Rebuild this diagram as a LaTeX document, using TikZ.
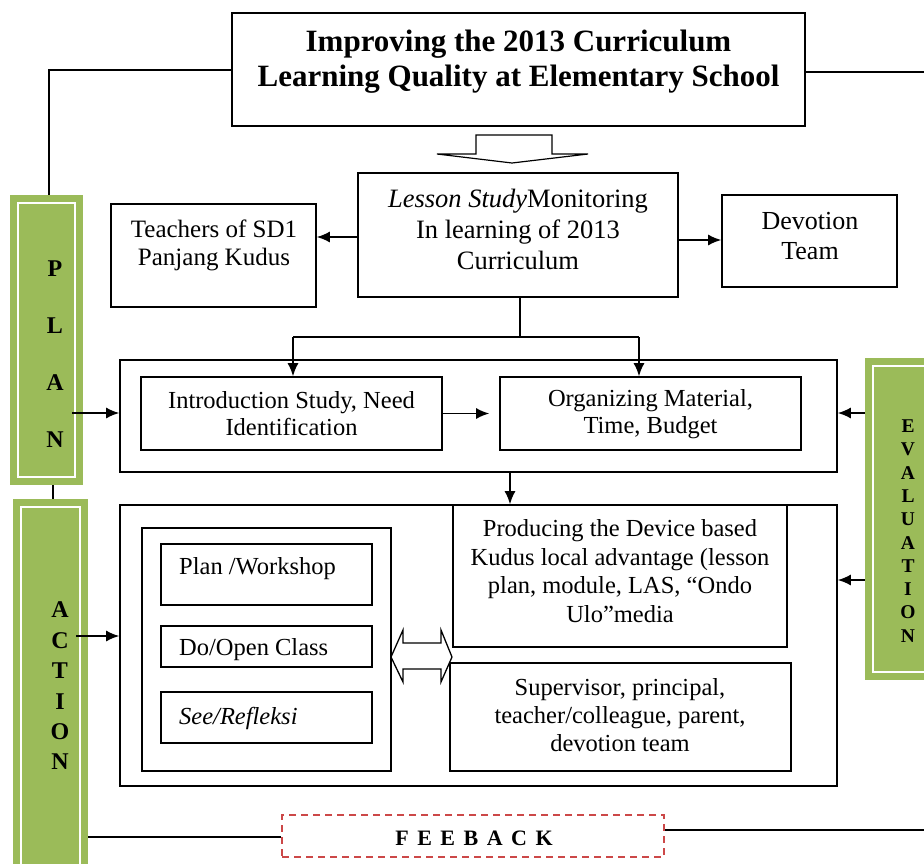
\documentclass[tikz,border=0pt]{standalone}
\usepackage{fontspec}
\setmainfont{Liberation Serif}
\usetikzlibrary{arrows.meta}
\definecolor{grn}{RGB}{155,187,89}
\definecolor{fbred}{RGB}{204,72,72}
\newcommand\lsp{\hspace{8.5pt}}
\begin{document}
\begin{tikzpicture}[x=1pt,y=-1pt,
  box/.style={draw=black, line width=1.6pt, inner sep=0pt, rectangle},
  txt/.style={font=\fontsize{24.5}{28}\selectfont, align=center, inner sep=0pt},
  arr/.style={line width=1.6pt, -{Latex[length=13pt,width=11pt]}},
  ln/.style={line width=1.6pt},
  greenbar/.style={fill=grn, draw=none, inner sep=0pt, rectangle},
  whiteframe/.style={draw=white, line width=2.5pt},
  gletter/.style={font=\bfseries\fontsize{24}{57}\selectfont, align=center, inner sep=0pt},
]
\useasboundingbox (0,0) rectangle (924,863);
\clip (0,0) rectangle (924,863);
\fill[white] (0,0) rectangle (924,863);

% green side bars
\node[greenbar, minimum width=73, minimum height=290] (plan) at (46.5,340) {};
\draw[whiteframe] ([shift={(8,8)}]plan.north west) rectangle ([shift={(-8,-8)}]plan.south east);
\node[gletter] (plantxt) at (55,354) {P\\L\\A\\N};

\node[greenbar, minimum width=75, minimum height=381] (action) at (50.5,689.5) {};
\draw[whiteframe] ([shift={(8,8)}]action.north west) rectangle ([shift={(-8,-8)}]action.south east);
\node[gletter, font=\bfseries\fontsize{24}{30.4}\selectfont] (actiontxt) at (60,686) {A\\C\\T\\I\\O\\N};

\node[greenbar, minimum width=80, minimum height=322] (eval) at (905,519) {};
\draw[whiteframe] ([shift={(8,8)}]eval.north west) rectangle ([shift={(-8,-8)}]eval.south east);
\node[gletter, font=\bfseries\fontsize{19.5}{23.3}\selectfont] (evaltxt) at (908,531) {E\\V\\A\\L\\U\\A\\T\\I\\O\\N};

% title
\node[box, minimum width=573, minimum height=113] (title) at (518.5,69.5) {};
\node[font=\bfseries\fontsize{31}{35}\selectfont, align=center, inner sep=0pt] (titletxt) at (518.5,62) {Improving the 2013 Curriculum\\Learning Quality at Elementary School};

% hollow block arrow
\draw[line width=1.2pt, fill=white] (476,154) -- (476,135) -- (552,135) -- (552,154) -- (588,154) -- (512,163) -- (437,154) -- cycle;

% lesson study row
\node[box, minimum width=320, minimum height=124] (lesson) at (518,235) {};
\node[txt, font=\fontsize{26.5}{31}\selectfont] (lessontxt) at (518,229) {\textit{Lesson Study}Monitoring\\In learning of 2013\\Curriculum};

\node[box, minimum width=205, minimum height=103] (teachers) at (213.5,255.5) {};
\node[txt, font=\fontsize{25}{28}\selectfont] (teacherstxt) at (214,245) {Teachers of SD1\\Panjang Kudus};

\node[box, minimum width=175, minimum height=92] (devotion) at (809.5,241) {};
\node[txt, font=\fontsize{26}{30}\selectfont] (devotiontxt) at (810,236) {Devotion\\Team};

% first big box
\node[box, minimum width=717, minimum height=112] (big1) at (478.5,416) {};
\node[box, minimum width=301, minimum height=73] (intro) at (291.5,413.5) {};
\node[txt, font=\fontsize{24.5}{27}\selectfont] (introtxt) at (291.5,414) {Introduction Study, Need\\Identification};
\node[box, minimum width=301, minimum height=73] (org) at (650.5,413.5) {};
\node[txt, font=\fontsize{24.5}{27}\selectfont] (orgtxt) at (650.5,414) {Organizing Material,\\Time, Budget};

% second big box
\node[box, minimum width=717, minimum height=281] (big2) at (478.5,645.5) {};
\node[box, minimum width=334, minimum height=142] (prod) at (620,576) {};
\node[txt, font=\fontsize{24.5}{28.5}\selectfont] (prodtxt) at (620,571) {Producing the Device based\\Kudus local advantage (lesson\\plan, module, LAS, “Ondo\\Ulo”media};
\node[box, minimum width=341, minimum height=108] (sup) at (620.5,717) {};
\node[txt, font=\fontsize{24.5}{28}\selectfont] (suptxt) at (620,715) {Supervisor, principal,\\teacher/colleague, parent,\\devotion team};

\node[box, minimum width=249, minimum height=243] (inner) at (266.5,649.5) {};
\node[box, minimum width=211, minimum height=61] (pw) at (266.5,574.5) {};
\node[txt, anchor=west] (pwtxt) at (179,569) {Plan /Workshop};
\node[box, minimum width=211, minimum height=41] (doc) at (266.5,646.5) {};
\node[txt, anchor=west] (doctxt) at (179,650) {Do/Open Class};
\node[box, minimum width=211, minimum height=51] (see) at (266.5,717.5) {};
\node[txt, anchor=west] (seetxt) at (179,718) {\textit{See/Refleksi}};

% double arrow
\draw[line width=1.3pt, fill=white] (391,657) -- (403,630) -- (403,643) -- (441,643) -- (441,630) -- (452,657) -- (441,682) -- (441,669) -- (403,669) -- (403,682) -- cycle;

% feedback
\node[draw=fbred, dash pattern=on 7pt off 5pt, line width=1.5pt, inner sep=0pt, minimum width=382, minimum height=42] (feed) at (473,836) {};
\node[font=\bfseries\fontsize{22}{24}\selectfont, inner sep=0pt] (feedtxt) at (474,838) {F\lsp E\lsp E\lsp B\lsp A\lsp C\lsp K};

% coordinates for free ends and branching
\coordinate (tl) at (49,70);
\coordinate (tr) at (924,72);
\coordinate (fr) at (924,830);
\coordinate (brM) at (520,337);
\coordinate (brL) at (293,337);
\coordinate (brR) at (639,337);

% connectors
\draw[ln] (title.west |- tl) -- (tl) -- (plan.north -| tl);
\draw[ln] (title.east |- tr) -- (tr);
\draw[ln] (plan.south -| 53,0) -- (action.north -| 53,0);
\draw[arr] ([xshift=-11pt]plan.east |- 0,413) -- (big1.west |- 0,413);
\draw[arr] (eval.west |- 0,413) -- (big1.east |- 0,413);
\draw[arr] (eval.west |- 0,580) -- (big2.east |- 0,580);
\draw[arr] ([xshift=-12pt]action.east |- 0,636) -- (big2.west |- 0,636);
\draw[ln] (action.east |- 0,837) -- (feed.west |- 0,837);
\draw[ln] (feed.east |- fr) -- (fr);

\draw[arr] (lesson.west |- 0,237) -- (teachers.east |- 0,237);
\draw[arr] (lesson.east |- 0,240) -- (devotion.west |- 0,240);
\draw[ln] (lesson.south -| brM) -- (brM);
\draw[ln] (brL) -- (brR);
\draw[arr] (brL) -- (intro.north -| brL);
\draw[arr] (brR) -- (org.north -| brR);
\draw[arr] (intro.east) -- ([xshift=-10pt]org.west);
\draw[arr] (big1.south -| 510,0) -- (prod.north -| 510,0);
\end{tikzpicture}
\end{document}
